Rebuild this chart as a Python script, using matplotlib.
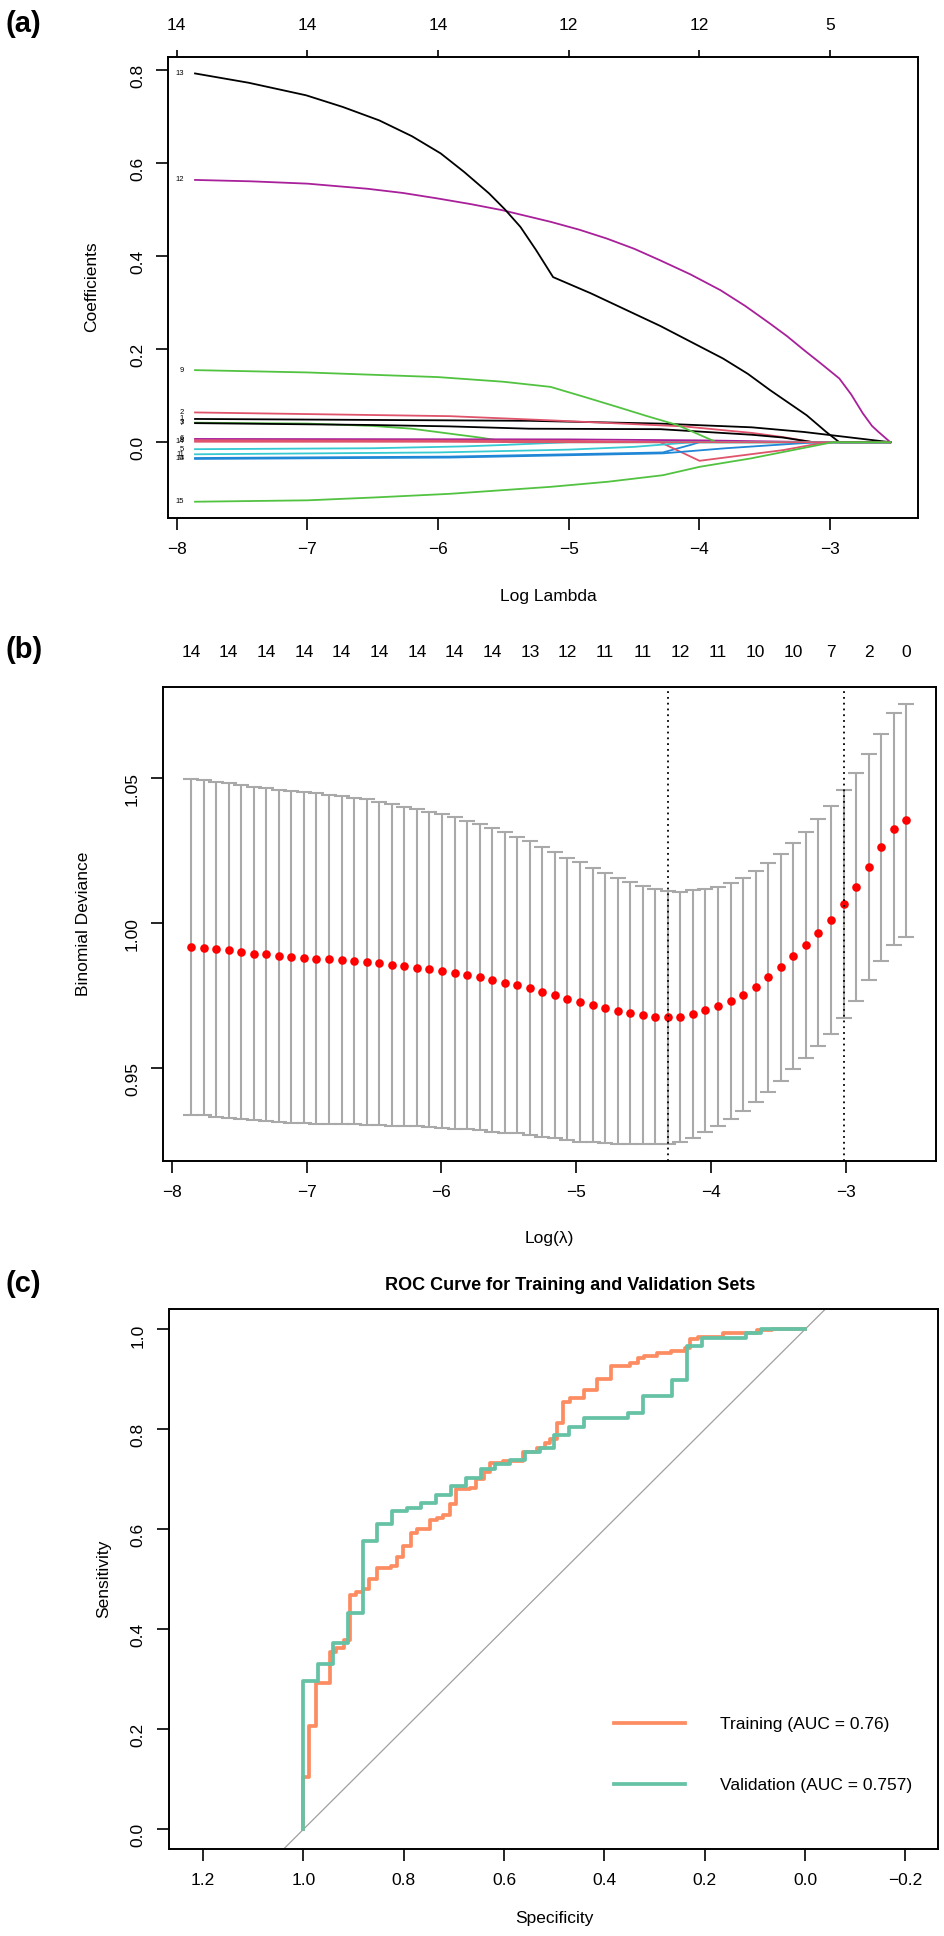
import numpy as np
import matplotlib.pyplot as plt
from matplotlib.lines import Line2D

plt.rcParams['font.family'] = ['Liberation Sans', 'DejaVu Sans']

W, H = 945, 1936

# ---------- (a) lasso coefficient paths ----------
path_colors = ['#000000', '#DF536B', '#52C241', '#1F87D6', '#36C9D2', '#A8209A']
coef_paths = {
    1:  [(-7.86, 0.050), (-5.3, 0.046), (-4.3, 0.040), (-3.6, 0.032), (-3.2, 0.022), (-2.9, 0.012), (-2.54, 0.0)],
    2:  [(-7.86, 0.064), (-5.91, 0.056), (-5.14, 0.047), (-4.12, 0.034), (-3.6, 0.020), (-3.36, 0.011), (-3.13, 0.0), (-2.54, 0.0)],
    3:  [(-7.86, 0.042), (-7.0, 0.040), (-6.5, 0.035), (-6.2, 0.029), (-5.9, 0.018), (-5.68, 0.010), (-5.45, 0.0), (-2.54, 0.0)],
    4:  [(-7.86, -0.034), (-5.91, -0.031), (-4.28, -0.022), (-4.07, -0.006), (-4.0, 0.0), (-2.54, 0.0)],
    5:  [(-7.86, -0.015), (-6.5, -0.013), (-5.8, -0.009), (-5.5, -0.006), (-5.0, 0.0), (-2.54, 0.0)],
    6:  [(-7.86, 0.007), (-5.0, 0.006), (-4.0, 0.004), (-3.3, 0.001), (-3.1, 0.0), (-2.54, 0.0)],
    7:  [(-7.86, 0.041), (-6.5, 0.037), (-5.91, 0.034), (-5.3, 0.029), (-4.3, 0.028), (-3.6, 0.016), (-3.36, 0.010), (-3.13, 0.0), (-2.54, 0.0)],
    8:  [(-7.86, 0.004), (-5.0, 0.003), (-4.3, 0.0), (-4.0, -0.040), (-3.36, -0.017), (-3.03, 0.0), (-2.54, 0.0)],
    9:  [(-7.86, 0.155), (-7.0, 0.150), (-6.0, 0.140), (-5.5, 0.130), (-5.14, 0.119), (-4.9, 0.099), (-4.63, 0.076),
         (-4.4, 0.056), (-4.17, 0.037), (-3.87, 0.0), (-2.54, 0.0)],
    10: [(-7.86, -0.036), (-5.91, -0.033), (-4.28, -0.024), (-3.8, -0.013), (-3.1, 0.0), (-2.54, 0.0)],
    11: [(-7.86, -0.026), (-6.0, -0.022), (-5.0, -0.016), (-4.5, -0.010), (-4.05, 0.0), (-2.54, 0.0)],
    12: [(-7.86, 0.564), (-7.43, 0.561), (-7.0, 0.556), (-6.54, 0.545), (-6.27, 0.536), (-6.0, 0.524), (-5.75, 0.512),
         (-5.51, 0.499), (-5.14, 0.474), (-4.92, 0.457), (-4.71, 0.438), (-4.5, 0.416), (-4.30, 0.391), (-4.07, 0.361),
         (-3.84, 0.327), (-3.65, 0.293), (-3.46, 0.255), (-3.33, 0.228), (-3.20, 0.198), (-3.07, 0.169), (-2.93, 0.137),
         (-2.84, 0.103), (-2.75, 0.062), (-2.68, 0.035), (-2.63, 0.022), (-2.54, 0.0)],
    13: [(-7.86, 0.793), (-7.45, 0.773), (-7.01, 0.746), (-6.73, 0.721), (-6.45, 0.692), (-6.2, 0.658), (-5.98, 0.621),
         (-5.8, 0.581), (-5.61, 0.535), (-5.49, 0.501), (-5.37, 0.463), (-5.25, 0.413), (-5.12, 0.355), (-4.83, 0.320),
         (-4.30, 0.250), (-3.82, 0.180), (-3.63, 0.147), (-3.46, 0.112), (-3.18, 0.058), (-3.03, 0.022),
         (-2.93, 0.0), (-2.54, 0.0)],
    14: [(-7.86, 0.001), (-6.0, 0.001), (-5.3, 0.0), (-2.54, 0.0)],
    15: [(-7.86, -0.128), (-7.0, -0.125), (-6.5, -0.119), (-5.91, -0.111), (-5.14, -0.096), (-4.7, -0.085),
         (-4.28, -0.071), (-4.0, -0.053), (-3.61, -0.035), (-3.16, -0.010), (-2.98, 0.0), (-2.54, 0.0)],
}
a_top_ticks = [-8, -7, -6, -5, -4, -3]
a_top_labels = ['14', '14', '14', '12', '12', '5']

# ---------- (b) cross-validation curve ----------
log_lambda = [-7.857, -7.764, -7.671, -7.578, -7.485, -7.392, -7.298, -7.205, -7.112, -7.019,
              -6.926, -6.833, -6.740, -6.647, -6.554, -6.461, -6.368, -6.274, -6.181, -6.088,
              -5.995, -5.902, -5.809, -5.716, -5.623, -5.530, -5.437, -5.343, -5.250, -5.157,
              -5.064, -4.971, -4.878, -4.785, -4.692, -4.599, -4.506, -4.413, -4.320, -4.226,
              -4.133, -4.040, -3.947, -3.854, -3.761, -3.668, -3.575, -3.482, -3.389, -3.296,
              -3.202, -3.109, -3.016, -2.923, -2.830, -2.737, -2.644, -2.551]
cvm = [0.9919, 0.9916, 0.9911, 0.9907, 0.9901, 0.9896, 0.9893, 0.9888, 0.9885, 0.9882,
       0.9879, 0.9877, 0.9875, 0.9871, 0.9867, 0.9862, 0.9857, 0.9853, 0.9848, 0.9842,
       0.9836, 0.9829, 0.9822, 0.9814, 0.9805, 0.9796, 0.9787, 0.9777, 0.9764, 0.9754,
       0.9741, 0.9729, 0.9718, 0.9708, 0.9699, 0.9690, 0.9684, 0.9678, 0.9676, 0.9679,
       0.9687, 0.9700, 0.9715, 0.9732, 0.9754, 0.9782, 0.9814, 0.9849, 0.9887, 0.9925,
       0.9968, 1.0013, 1.0067, 1.0126, 1.0194, 1.0263, 1.0325, 1.0355]
cvsd = [0.0578, 0.0578, 0.0578, 0.0577, 0.0576, 0.0575, 0.0573, 0.0573, 0.0573, 0.0571,
        0.0569, 0.0567, 0.0565, 0.0562, 0.0561, 0.0558, 0.0554, 0.0550, 0.0546, 0.0543,
        0.0540, 0.0537, 0.0532, 0.0527, 0.0523, 0.0518, 0.0511, 0.0506, 0.0501, 0.0493,
        0.0486, 0.0481, 0.0473, 0.0466, 0.0458, 0.0452, 0.0444, 0.0439, 0.0437, 0.0431,
        0.0427, 0.0420, 0.0412, 0.0407, 0.0401, 0.0398, 0.0394, 0.0391, 0.0390, 0.0389,
        0.0391, 0.0393, 0.0392, 0.0392, 0.0389, 0.0391, 0.0401, 0.0402]
nonzero = ['14', '14', '14', '14', '14', '14', '14', '14', '14', '13',
           '12', '11', '11', '12', '11', '10', '10', '7', '2', '0']
lambda_min_log = -4.316
lambda_1se_log = -3.015

# ---------- (c) ROC curves ----------
train_spec = [1.000, 1.000, 0.988, 0.975, 0.947, 0.935, 0.920, 0.907, 0.895, 0.881, 0.869, 0.854,
              0.826, 0.814, 0.801, 0.786, 0.774, 0.748, 0.733, 0.721, 0.708, 0.695, 0.668, 0.655,
              0.641, 0.628, 0.603, 0.562, 0.534, 0.518, 0.508, 0.495, 0.482, 0.469, 0.441, 0.415,
              0.387, 0.348, 0.334, 0.321, 0.295, 0.268, 0.239, 0.229, 0.213, 0.163, 0.096, 0.066, 0.000]
train_sens = [0.000, 0.105, 0.207, 0.292, 0.354, 0.362, 0.379, 0.469, 0.475, 0.480, 0.500, 0.522,
              0.527, 0.544, 0.567, 0.592, 0.600, 0.619, 0.622, 0.629, 0.650, 0.680, 0.683, 0.701,
              0.714, 0.733, 0.736, 0.755, 0.762, 0.772, 0.780, 0.812, 0.854, 0.862, 0.879, 0.900,
              0.927, 0.933, 0.942, 0.947, 0.952, 0.957, 0.962, 0.980, 0.984, 0.993, 0.998, 1.000, 1.000]
valid_spec = [1.000, 1.000, 0.971, 0.941, 0.912, 0.882, 0.853, 0.824, 0.794, 0.765, 0.735, 0.706,
              0.676, 0.647, 0.618, 0.588, 0.559, 0.529, 0.500, 0.471, 0.441, 0.353, 0.324, 0.265,
              0.235, 0.206, 0.118, 0.088, 0.000]
valid_sens = [0.000, 0.297, 0.331, 0.373, 0.432, 0.577, 0.610, 0.637, 0.643, 0.653, 0.669, 0.686,
              0.703, 0.720, 0.730, 0.738, 0.754, 0.762, 0.789, 0.805, 0.822, 0.832, 0.867, 0.898,
              0.966, 0.983, 0.992, 1.000, 1.000]
roc_labels = ['Training (AUC = 0.76)', 'Validation (AUC = 0.757)']
roc_colors = ['#FC8D62', '#66C2A5']


def box(l, t, r, b):
    return [l / W, 1 - b / H, (r - l) / W, (b - t) / H]


def px(x, y):
    return x / W, 1 - y / H


FS = 12.5
TL = 8.3
fig = plt.figure(figsize=(W / 100, H / 100), dpi=100)


def style(ax, ypad=8):
    for s in ax.spines.values():
        s.set_linewidth(1.4)
    ax.tick_params(direction='out', length=TL, width=1.2, labelsize=FS)
    ax.tick_params(axis='x', pad=9)
    ax.tick_params(axis='y', labelrotation=90, pad=ypad)


# panel a
ax = fig.add_axes(box(167.7, 56.7, 918, 518))
for k, pts in coef_paths.items():
    xs = [p[0] for p in pts]
    ys = [p[1] for p in pts]
    ax.plot(xs, ys, color=path_colors[(k - 1) % 6], lw=1.3)
    ax.text(-7.945, ys[0], str(k), fontsize=5.5, ha='right', va='center')
ax.set_xlim(-8.069, -2.328)
ax.set_ylim(-0.163, 0.829)
ax.set_xticks([-8, -7, -6, -5, -4, -3])
ax.set_yticks([0.0, 0.2, 0.4, 0.6, 0.8])
style(ax)
top = ax.twiny()
top.set_xlim(ax.get_xlim())
top.set_xticks(a_top_ticks)
top.set_xticklabels(a_top_labels)
top.tick_params(direction='out', length=4.8, width=1.2, labelsize=FS, pad=12)
for s in top.spines.values():
    s.set_visible(False)
fig.text(*px(548, 596), 'Log Lambda', fontsize=FS, ha='center', va='center')
fig.text(*px(92, 287), 'Coefficients', fontsize=FS, ha='center', va='center', rotation=90)

# panel b
ax = fig.add_axes(box(162.7, 686.7, 935.7, 1161.3))
ax.errorbar(log_lambda, cvm, yerr=cvsd, fmt='none', ecolor='#A9A9A9',
            elinewidth=1.5, capsize=5.8, capthick=1.5)
ax.plot(log_lambda, cvm, 'o', color='red', ms=6.2, mec='none')
for v in (lambda_min_log, lambda_1se_log):
    ax.axvline(v, color='black', lw=1.3, ls=(0, (1, 2.2)))
ax.set_xlim(-8.067, -2.332)
ax.set_ylim(0.918, 1.0816)
ax.set_xticks([-8, -7, -6, -5, -4, -3])
ax.set_yticks([0.95, 1.00, 1.05])
style(ax)
top = ax.twiny()
top.set_xlim(ax.get_xlim())
top.set_xticks(log_lambda[::3])
top.set_xticklabels(nonzero)
top.tick_params(length=0, labelsize=FS, pad=19)
for s in top.spines.values():
    s.set_visible(False)
fig.text(*px(549, 1238), 'Log(\u03bb)', fontsize=FS, ha='center', va='center')
fig.text(*px(84, 924), 'Binomial Deviance', fontsize=FS, ha='center', va='center', rotation=90)

# panel c
ax = fig.add_axes(box(169.5, 1309.3, 938, 1849.3))
ax.axline((1, 0), (0, 1), color='#A0A0A0', lw=0.9)
ax.plot(train_spec, train_sens, drawstyle='steps-post', color=roc_colors[0], lw=2.7)
ax.plot(valid_spec, valid_sens, drawstyle='steps-post', color=roc_colors[1], lw=2.7)
ax.set_xlim(1.267, -0.265)
ax.set_ylim(-0.04, 1.04)
ax.set_xticks([1.2, 1.0, 0.8, 0.6, 0.4, 0.2, 0.0, -0.2])
ax.set_yticks([0.0, 0.2, 0.4, 0.6, 0.8, 1.0])
style(ax, ypad=9)
handles = [Line2D([], [], color=c, lw=2.7) for c in roc_colors]
fig.legend(handles, roc_labels, loc='center left', bbox_to_anchor=px(613.8, 1755),
           frameon=False, fontsize=FS, handlelength=4.1, handletextpad=2.0,
           labelspacing=2.6, borderpad=0, borderaxespad=0)
fig.text(*px(570, 1285), 'ROC Curve for Training and Validation Sets', fontsize=13,
         fontweight='bold', ha='center', va='center')
fig.text(*px(554, 1919), 'Specificity', fontsize=FS, ha='center', va='center')
fig.text(*px(104, 1579), 'Sensitivity', fontsize=FS, ha='center', va='center', rotation=90)

for lab, y in (('(a)', 24), ('(b)', 650), ('(c)', 1284)):
    fig.text(*px(6, y), lab, fontsize=21, fontweight='bold', ha='left', va='center')

fig.savefig('out.png', dpi=100)
